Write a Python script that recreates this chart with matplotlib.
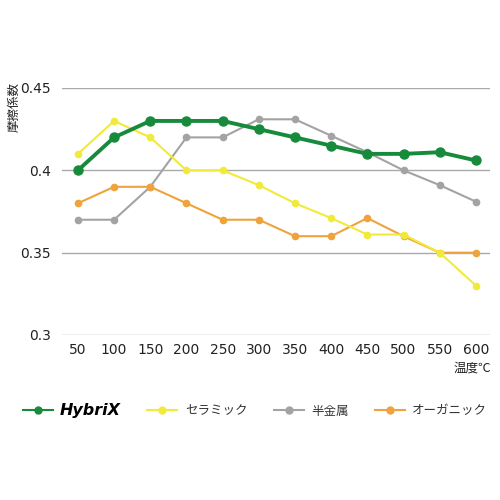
import numpy as np
from matplotlib import pyplot as plt

plt.rcParams['font.family'] = ['DejaVu Sans', 'Noto Sans CJK JP']

temps = ['50', '100', '150', '200', '250', '300', '350', '400', '450', '500', '550', '600']
hybrix = [0.400, 0.420, 0.430, 0.430, 0.430, 0.425, 0.420, 0.415, 0.410, 0.410, 0.411, 0.406]
ceramic = [0.410, 0.430, 0.420, 0.400, 0.400, 0.391, 0.380, 0.371, 0.361, 0.361, 0.350, 0.330]
semimetal = [0.370, 0.370, 0.390, 0.420, 0.420, 0.431, 0.431, 0.421, 0.411, 0.400, 0.391, 0.381]
organic = [0.380, 0.390, 0.390, 0.380, 0.370, 0.370, 0.360, 0.360, 0.371, 0.360, 0.350, 0.350]

names = ['HybriX', 'セラミック', '半金属', 'オーガニック']
colors = ['#178a3c', '#f2ea3a', '#a3a3a3', '#eea33c']

fig = plt.figure(figsize=(5, 5), dpi=100)
ax = fig.add_axes([0.124, 0.33, 0.856, 0.494])
x = np.arange(len(temps))

series = [semimetal, organic, ceramic, hybrix]
order = [2, 3, 1, 0]
handles = {}
for s, i in zip(series, order):
    if i == 0:
        h, = ax.plot(x, s, color=colors[i], lw=2.8, marker='o', ms=6.5, zorder=5)
    else:
        h, = ax.plot(x, s, color=colors[i], lw=1.5, marker='o', ms=4.5, zorder=3)
    handles[i] = h

ax.set_xlim(-0.44, 11.39)
ax.set_ylim(0.3, 0.45)
ax.set_yticks([0.3, 0.35, 0.4, 0.45])
ax.set_yticklabels(['0.3', '0.35', '0.4', '0.45'])
ax.set_xticks(x)
ax.set_xticklabels(temps)
ax.yaxis.grid(True, color='#aaaaaa', lw=1)
ax.set_axisbelow(True)
for sp in ax.spines.values():
    sp.set_visible(False)
ax.tick_params(length=0, labelsize=10, colors='#222222')
ax.tick_params(axis='y', pad=8)
ax.tick_params(axis='x', pad=6)

fig.text(0.028, 0.786, '摩擦係数', rotation=90, ha='center', va='center',
         fontsize=9, family=['Noto Sans CJK JP'], color='#222222')
fig.text(0.945, 0.264, '温度℃', ha='center', va='center',
         fontsize=9, family=['Noto Sans CJK JP'], color='#222222')

leg = fig.legend([handles[i] for i in range(4)], names, loc='center',
                 bbox_to_anchor=(0.51, 0.18), ncol=4, frameon=False,
                 handlelength=2.4, columnspacing=2.1, handletextpad=0.6,
                 prop={'family': ['Noto Sans CJK JP'], 'size': 9})
for lh in leg.legend_handles:
    lh.set_linewidth(1.5)
    lh.set_markersize(5)
for t in leg.get_texts():
    t.set_color('#333333')
t0 = leg.get_texts()[0]
t0.set_fontweight('bold')
t0.set_fontstyle('italic')
t0.set_fontfamily(['DejaVu Sans'])
t0.set_fontsize(11.5)
t0.set_color('black')

fig.savefig('out.png', dpi=100)
